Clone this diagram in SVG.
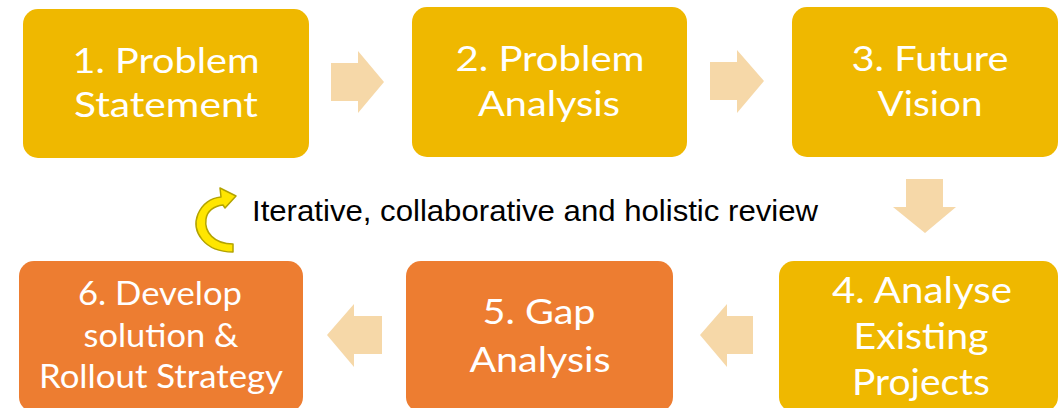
<svg xmlns="http://www.w3.org/2000/svg" width="1059" height="408" viewBox="0 0 1059 408">
<style>
.y{fill:#EFB800}
.o{fill:#ED7D31}
.t{font-family:Lato,"Open Sans","Liberation Sans",sans-serif;fill:#FFFFFF;text-anchor:middle}
.a{fill:#F6D8A8}
.lbl{font-family:"Liberation Sans",Arial,sans-serif;font-size:30px;fill:#000000}
</style>
<rect width="1059" height="408" fill="#FFFFFF"/>
<g id="connectors">
<polygon class="a" points="331,63 358,63 358,51 384,82 358,113 358,101 331,101"/>
<polygon class="a" points="710,62 737,62 737,50 764,81 737,113 737,100 710,100"/>
<polygon class="a" points="906,179 943,179 943,207 956,207 925,233 893,207 906,207"/>
<polygon class="a" points="753,316 727,316 727,304 700,335 727,367 727,354 753,354"/>
<polygon class="a" points="382,316 354,316 354,304 327,335 354,367 354,354 382,354"/>
</g>
<g id="cycle">
<path d="M233 252 C204 252 191 231 198 214 C203 203 211 198 221 197 L220 188 L236 196 L225 208 L223 205 C214 206 207 211 206 219 C204 232 214 244 233 244 Z" fill="#FFE600" stroke="#B3A300" stroke-width="1.5" stroke-linejoin="round"/>
<text class="lbl" x="252" y="221" textLength="566" lengthAdjust="spacingAndGlyphs">Iterative, collaborative and holistic review</text>
</g>
<g id="n1">
<rect class="y" x="23" y="9" width="286" height="149" rx="15"/>
<text class="t" font-size="35" x="166" y="73" textLength="187" lengthAdjust="spacingAndGlyphs">1. Problem</text>
<text class="t" font-size="35" x="166" y="117" textLength="184" lengthAdjust="spacingAndGlyphs">Statement</text>
</g>
<g id="n2">
<rect class="y" x="412" y="7" width="275" height="150" rx="15"/>
<text class="t" font-size="35" x="550" y="71" textLength="189" lengthAdjust="spacingAndGlyphs">2. Problem</text>
<text class="t" font-size="35" x="549" y="116" textLength="142" lengthAdjust="spacingAndGlyphs">Analysis</text>
</g>
<g id="n3">
<rect class="y" x="792" y="7" width="266" height="150" rx="15"/>
<text class="t" font-size="35" x="930" y="71" textLength="157" lengthAdjust="spacingAndGlyphs">3. Future</text>
<text class="t" font-size="35" x="930" y="116" textLength="105" lengthAdjust="spacingAndGlyphs">Vision</text>
</g>
<g id="n4">
<rect class="y" x="779" y="261" width="279" height="151" rx="15"/>
<text class="t" font-size="37" x="922" y="303" textLength="180" lengthAdjust="spacingAndGlyphs">4. Analyse</text>
<text class="t" font-size="37" x="921" y="349" textLength="135" lengthAdjust="spacingAndGlyphs">Existing</text>
<text class="t" font-size="37" x="921" y="395" textLength="138" lengthAdjust="spacingAndGlyphs">Projects</text>
</g>
<g id="n5">
<rect class="o" x="406" y="261" width="267" height="151" rx="15"/>
<text class="t" font-size="35" x="539" y="324" textLength="113" lengthAdjust="spacingAndGlyphs">5. Gap</text>
<text class="t" font-size="35" x="540" y="372" textLength="141" lengthAdjust="spacingAndGlyphs">Analysis</text>
</g>
<g id="n6">
<rect class="o" x="19" y="261" width="284" height="151" rx="15"/>
<text class="t" font-size="33" x="160" y="305" textLength="164" lengthAdjust="spacingAndGlyphs">6. Develop</text>
<text class="t" font-size="33" x="161" y="347" textLength="155" lengthAdjust="spacingAndGlyphs">solution &amp;</text>
<text class="t" font-size="33" x="161" y="388" textLength="244" lengthAdjust="spacingAndGlyphs">Rollout Strategy</text>
</g>
</svg>
